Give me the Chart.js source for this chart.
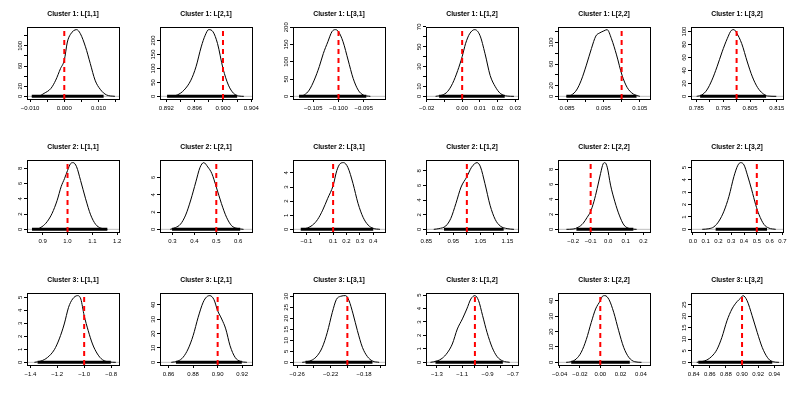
<!DOCTYPE html>
<html>
<head>
<meta charset="utf-8">
<script src="https://cdn.jsdelivr.net/npm/chart.js@4.4.0/dist/chart.umd.min.js"></script>
<style>
html, body { margin: 0; padding: 0; background: #fff; }
#wrap { position: relative; width: 797px; height: 399px; overflow: hidden; background: #fff; }
#wrap canvas { position: absolute; }
</style>
</head>
<body>
<div id="wrap"></div>
<script>
// panel titles, row by row (3 clusters x 6 loadings)
const titles = [
  'Cluster 1: L[1,1]', 'Cluster 1: L[2,1]', 'Cluster 1: L[3,1]', 'Cluster 1: L[1,2]', 'Cluster 1: L[2,2]', 'Cluster 1: L[3,2]',
  'Cluster 2: L[1,1]', 'Cluster 2: L[2,1]', 'Cluster 2: L[3,1]', 'Cluster 2: L[1,2]', 'Cluster 2: L[2,2]', 'Cluster 2: L[3,2]',
  'Cluster 3: L[1,1]', 'Cluster 3: L[2,1]', 'Cluster 3: L[3,1]', 'Cluster 3: L[1,2]', 'Cluster 3: L[2,2]', 'Cluster 3: L[3,2]'
];

// true value (red dashed line)
const trueVals = [0, 0.9, -0.1, 0, 0.1, 0.8, 1.0, 0.5, 0.1, 1.0, -0.1, 0.5, -1.0, 0.9, -0.2, -1.0, 0, 0.9];

// x range of each plot
const xLims = [
  [-0.0109, 0.016], [0.8911, 0.9041], [-0.109, -0.0908], [-0.0204, 0.0315], [0.0825, 0.1078], [0.783, 0.8173],
  [0.837, 1.207], [0.243, 0.663], [-0.2, 0.488], [0.849, 1.189], [-0.286, 0.238], [-0.015, 0.705],
  [-1.425, -0.741], [0.853, 0.928], [-0.265, -0.155], [-1.387, -0.659], [-0.0416, 0.0489], [0.8367, 0.9508]
];

// range of the sample points drawn on y = 0
const rugs = [
  [-0.0095, 0.0115], [0.8921, 0.902], [-0.1078, -0.0945], [-0.013, 0.024], [0.0848, 0.1041], [0.7864, 0.811],
  [0.857, 1.16], [0.298, 0.609], [-0.142, 0.4], [0.9155, 1.136], [-0.181, 0.143], [0.178, 0.58],
  [-1.346, -0.802], [0.866, 0.9197], [-0.25, -0.17], [-1.312, -0.779], [-0.0286, 0.029], [0.8458, 0.9375]
];

// density curves
const densX = [
  [-0.0095, -0.0073, -0.0059, -0.0039, -0.0025, -0.0011, 0, 0.0009, 0.0018, 0.0036, 0.0047, 0.0062, 0.0076, 0.009, 0.0105, 0.0124, 0.0148],
  [0.89258, 0.89354, 0.89451, 0.89547, 0.89619, 0.89692, 0.89749, 0.89798, 0.8986, 0.89923, 0.9, 0.90077, 0.9015, 0.90222, 0.90294],
  [-0.1078, -0.1068, -0.1058, -0.1048, -0.1038, -0.103, -0.1021, -0.1013, -0.1006, -0.1, -0.0991, -0.0981, -0.0971, -0.0961, -0.0951, -0.0937],
  [-0.015, -0.0112, -0.0083, -0.0054, -0.0025, 0, 0.0019, 0.0042, 0.0071, 0.01, 0.0129, 0.0158, 0.0187, 0.0215, 0.0254, 0.0292],
  [0.0848, 0.0862, 0.0876, 0.0889, 0.0903, 0.0917, 0.0929, 0.094, 0.0951, 0.096, 0.0972, 0.0986, 0.1001, 0.1015, 0.1032, 0.105],
  [0.7851, 0.787, 0.7889, 0.7908, 0.7927, 0.7946, 0.7965, 0.7981, 0.799, 0.8, 0.8019, 0.804, 0.8059, 0.8078, 0.8097, 0.8116, 0.8148],
  [0.8775, 0.8977, 0.9179, 0.938, 0.9583, 0.9744, 0.9879, 1.0, 1.0121, 1.0229, 1.0363, 1.0525, 1.0727, 1.0929, 1.113, 1.1332, 1.16],
  [0.29, 0.3134, 0.3367, 0.36, 0.3834, 0.4067, 0.4253, 0.4425, 0.4611, 0.4798, 0.5, 0.5233, 0.5467, 0.57, 0.5933, 0.6244],
  [-0.129, -0.0914, -0.0537, -0.0159, 0.0219, 0.0597, 0.1, 0.1277, 0.1529, 0.1781, 0.2108, 0.2486, 0.2864, 0.3242, 0.362, 0.3997, 0.45],
  [0.8777, 0.8966, 0.9218, 0.9407, 0.9596, 0.9786, 1.0, 1.0164, 1.029, 1.0378, 1.0504, 1.0668, 1.0858, 1.1047, 1.1236, 1.1488, 1.174],
  [-0.238, -0.2, -0.1714, -0.1429, -0.12, -0.101, -0.0819, -0.0629, -0.0438, -0.0286, -0.019, -0.0057, 0.0133, 0.0381, 0.0629, 0.0895, 0.1238, 0.1619],
  [0.073, 0.125, 0.164, 0.204, 0.243, 0.282, 0.321, 0.352, 0.373, 0.4, 0.426, 0.46, 0.491, 0.517, 0.556, 0.595, 0.648],
  [-1.37, -1.321, -1.272, -1.222, -1.185, -1.148, -1.116, -1.086, -1.049, -1.025, -1.0, -0.97, -0.938, -0.901, -0.864, -0.815, -0.765],
  [0.8622, 0.8677, 0.8718, 0.8759, 0.88, 0.8841, 0.8882, 0.891, 0.8937, 0.897, 0.9, 0.9033, 0.9066, 0.9101, 0.9142, 0.9184, 0.9238],
  [-0.254, -0.248, -0.242, -0.236, -0.23, -0.224, -0.218, -0.2132, -0.208, -0.202, -0.198, -0.1932, -0.188, -0.182, -0.176, -0.17, -0.162],
  [-1.352, -1.299, -1.259, -1.219, -1.179, -1.139, -1.099, -1.064, -1.032, -1.0, -0.971, -0.939, -0.904, -0.864, -0.824, -0.779, -0.725],
  [-0.0336, -0.0286, -0.0237, -0.0188, -0.0138, -0.0089, -0.0046, 0, 0.002, 0.0046, 0.0086, 0.0132, 0.0181, 0.023, 0.028, 0.0339, 0.0405],
  [0.8438, 0.85, 0.8563, 0.8625, 0.8688, 0.875, 0.8813, 0.8875, 0.8938, 0.8979, 0.9012, 0.9063, 0.9125, 0.9188, 0.925, 0.9313, 0.9375, 0.9458]
];
const densY = [
  [0, 1, 5.9, 15.7, 32, 55, 71.5, 107.5, 122.6, 132, 124, 98, 65, 32, 14, 2.6, 0],
  [0, 4.8, 22.6, 58, 106, 177, 219, 239, 231, 189, 100, 40, 10.7, 1.2, 0],
  [0, 3.8, 18, 47, 86, 124, 158, 187, 193, 187, 158, 105, 52, 18, 3.8, 0],
  [0, 1.3, 4.7, 13, 26, 40, 53, 63, 67.2, 61.5, 43, 21, 9.7, 3, 0.3, 0],
  [0, 2.5, 11.7, 30, 58, 89, 112, 118, 121.6, 124, 107, 77, 39.5, 16.7, 4.3, 0],
  [0, 2, 9.7, 25, 45.6, 68.7, 89, 102, 103, 98, 81.5, 53, 30, 13.8, 4.6, 0.5, 0],
  [0, 0.35, 1, 2.1, 3.8, 5.6, 6.65, 7.7, 8.6, 8.74, 8.2, 6.4, 4.0, 1.9, 0.65, 0.17, 0],
  [0, 0.2, 0.6, 1.65, 3.4, 5.5, 7.15, 7.73, 7.23, 6.46, 4.9, 3.0, 1.4, 0.42, 0.12, 0],
  [0, 0.1, 0.3, 0.7, 1.36, 2.2, 3.1, 4.17, 4.66, 4.73, 4.38, 3.25, 1.84, 0.85, 0.3, 0.07, 0],
  [0, 0.1, 0.45, 1.5, 3.55, 5.8, 7.2, 8.45, 9.0, 9.14, 8.55, 6.27, 3.3, 1.36, 0.45, 0.1, 0],
  [0, 0.04, 0.27, 0.8, 1.6, 2.35, 3.67, 5.44, 7.43, 8.76, 8.9, 8.3, 5.9, 3.67, 1.9, 0.58, 0.09, 0],
  [0, 0.05, 0.2, 0.67, 1.47, 2.67, 4.28, 5.19, 5.4, 5.21, 4.41, 3.2, 2.0, 1.2, 0.4, 0.1, 0],
  [0, 0.1, 0.38, 0.97, 1.8, 2.95, 4.23, 4.87, 5.13, 4.87, 3.6, 2.44, 1.41, 0.64, 0.2, 0.03, 0],
  [0, 0.9, 3.5, 9.3, 18.6, 31.4, 41.9, 45.6, 46.5, 43.7, 36, 30.2, 23.3, 11.6, 3.5, 0.7, 0],
  [0, 0.3, 1.06, 3, 6.8, 13.6, 22.7, 28.5, 30, 30.3, 28, 22, 14.4, 6.8, 2.6, 0.6, 0],
  [0, 0.1, 0.3, 0.7, 1.36, 2.48, 3.23, 3.97, 4.71, 4.96, 4.59, 3.47, 2.23, 1.12, 0.42, 0.1, 0],
  [0, 0.4, 2.2, 6.5, 14.8, 26, 34.8, 40.2, 43, 43.5, 40.9, 32.6, 20.6, 9.8, 3.3, 0.4, 0],
  [0, 0.3, 1, 2.6, 5.5, 10.8, 18, 23.1, 26.3, 27.7, 28.9, 26.7, 20.2, 13, 6.5, 2.2, 0.3, 0]
];

// axis ticks (empty label = tick mark only)
const xTickVals = [
  [-0.01, -0.005, 0, 0.005, 0.01, 0.015], [0.892, 0.894, 0.896, 0.898, 0.9, 0.902, 0.904], [-0.105, -0.1, -0.095],
  [-0.02, -0.01, 0, 0.01, 0.02, 0.03], [0.085, 0.09, 0.095, 0.1, 0.105], [0.785, 0.79, 0.795, 0.8, 0.805, 0.81, 0.815],
  [0.9, 1.0, 1.1, 1.2], [0.3, 0.4, 0.5, 0.6], [-0.1, 0, 0.1, 0.2, 0.3, 0.4],
  [0.85, 0.9, 0.95, 1.0, 1.05, 1.1, 1.15], [-0.2, -0.1, 0, 0.1, 0.2], [0, 0.1, 0.2, 0.3, 0.4, 0.5, 0.6, 0.7],
  [-1.4, -1.2, -1.0, -0.8], [0.86, 0.88, 0.9, 0.92], [-0.26, -0.24, -0.22, -0.2, -0.18, -0.16],
  [-1.3, -1.2, -1.1, -1.0, -0.9, -0.8, -0.7], [-0.04, -0.02, 0, 0.02, 0.04], [0.84, 0.86, 0.88, 0.9, 0.92, 0.94]
];
const xTickLabels = [
  ['-0.010', '', '0.000', '', '0.010', ''], ['0.892', '', '0.896', '', '0.900', '', '0.904'], ['-0.105', '-0.100', '-0.095'],
  ['-0.02', '', '0.00', '0.01', '0.02', '0.03'], ['0.085', '', '0.095', '', '0.105'], ['0.785', '', '0.795', '', '0.805', '', '0.815'],
  ['0.9', '1.0', '1.1', '1.2'], ['0.3', '0.4', '0.5', '0.6'], ['-0.1', '', '0.1', '0.2', '0.3', '0.4'],
  ['0.85', '', '0.95', '', '1.05', '', '1.15'], ['-0.2', '-0.1', '0.0', '0.1', '0.2'], ['0.0', '0.1', '0.2', '0.3', '0.4', '0.5', '0.6', '0.7'],
  ['-1.4', '-1.2', '-1.0', '-0.8'], ['0.86', '0.88', '0.90', '0.92'], ['-0.26', '', '-0.22', '', '-0.18', ''],
  ['-1.3', '', '-1.1', '', '-0.9', '', '-0.7'], ['-0.04', '-0.02', '0.00', '0.02', '0.04'], ['0.84', '0.86', '0.88', '0.90', '0.92', '0.94']
];
const yTickVals = [
  [0, 20, 40, 60, 80, 100, 120], [0, 50, 100, 150, 200], [0, 50, 100, 150, 200],
  [0, 10, 20, 30, 40, 50, 60, 70], [0, 20, 40, 60, 80, 100, 120], [0, 20, 40, 60, 80, 100],
  [0, 2, 4, 6, 8], [0, 2, 4, 6], [0, 1, 2, 3, 4],
  [0, 2, 4, 6, 8], [0, 2, 4, 6, 8], [0, 1, 2, 3, 4, 5],
  [0, 1, 2, 3, 4, 5], [0, 10, 20, 30, 40], [0, 5, 10, 15, 20, 25, 30],
  [0, 1, 2, 3, 4, 5], [0, 10, 20, 30, 40], [0, 5, 10, 15, 20, 25]
];
const yTickLabels = [
  ['0', '20', '', '60', '', '100', ''], ['0', '50', '100', '150', '200'], ['0', '50', '100', '150', '200'],
  ['0', '10', '', '30', '', '50', '', '70'], ['0', '20', '', '60', '', '100', ''], ['0', '20', '40', '60', '80', '100'],
  ['0', '2', '4', '6', '8'], ['0', '2', '4', '6'], ['0', '1', '2', '3', '4'],
  ['0', '2', '4', '6', '8'], ['0', '2', '4', '6', '8'], ['0', '1', '2', '3', '4', '5'],
  ['0', '1', '2', '3', '4', '5'], ['0', '10', '20', '30', '40'], ['0', '5', '10', '15', '20', '25', '30'],
  ['0', '1', '2', '3', '4', '5'], ['0', '10', '20', '30', '40'], ['0', '5', '10', '15', '20', '25']
];

const W = 797, PH = 133, NCOL = 6;
const BOX = { left: 27, right: 119, top: 27, bottom: 99 };
const FONT = "'Liberation Sans', Arial, Helvetica, sans-serif";
const minus = s => s.replace('-', '\u2212');

// box around plot region + rotated y labels like R
const rPlot = {
  id: 'rPlot',
  afterDraw(chart) {
    const { ctx, chartArea: a } = chart;
    ctx.save();
    ctx.strokeStyle = '#000';
    ctx.lineWidth = 1;
    ctx.strokeRect(Math.round(a.left) + 0.5, Math.round(a.top) + 0.5,
      Math.round(a.right - a.left), Math.round(a.bottom - a.top));
    const ys = chart.scales.y;
    ctx.fillStyle = '#000';
    ctx.font = '6px ' + FONT;
    ctx.textAlign = 'center';
    ctx.textBaseline = 'middle';
    ys.ticks.forEach(t => {
      if (!t.label) return;
      ctx.save();
      ctx.translate(a.left - 6.5, ys.getPixelForValue(t.value));
      ctx.rotate(-Math.PI / 2);
      ctx.fillText(t.label, 0, 0);
      ctx.restore();
    });
    ctx.restore();
  }
};

const wrap = document.getElementById('wrap');

titles.forEach((title, i) => {
  const col = i % NCOL, row = Math.floor(i / NCOL);
  const x0 = Math.round(col * W / NCOL), x1 = Math.round((col + 1) * W / NCOL);
  const cv = document.createElement('canvas');
  cv.width = x1 - x0;
  cv.height = PH;
  cv.style.left = x0 + 'px';
  cv.style.top = (row * PH) + 'px';
  cv.style.width = (x1 - x0) + 'px';
  cv.style.height = PH + 'px';
  wrap.appendChild(cv);

  const peak = Math.max(...densY[i]);
  const yMin = -0.04 * peak, yMax = 1.04 * peak;
  const [xMin, xMax] = xLims[i];
  const curve = densX[i].map((x, k) => ({ x: x, y: densY[i][k] }));

  const tickGrid = { display: true, drawOnChartArea: false, drawTicks: true, tickLength: 3, color: '#000', lineWidth: 1 };

  new Chart(cv, {
    type: 'line',
    data: {
      datasets: [
        { data: [{ x: trueVals[i], y: yMin }, { x: trueVals[i], y: yMax }], borderColor: '#ff0000', borderWidth: 2, borderDash: [5, 4], borderCapStyle: 'butt', pointRadius: 0 },
        { data: curve, borderColor: '#000', borderWidth: 1, pointRadius: 0, cubicInterpolationMode: 'monotone' },
        { data: [{ x: rugs[i][0], y: 0 }, { x: rugs[i][1], y: 0 }], borderColor: '#000', borderWidth: 3, borderCapStyle: 'butt', pointRadius: 0 },
        { data: [{ x: xMin, y: 0 }, { x: xMax, y: 0 }], borderColor: '#bebebe', borderWidth: 1, pointRadius: 0 }
      ]
    },
    options: {
      responsive: false,
      animation: false,
      events: [],
      layout: { padding: { left: 0, right: cv.width - BOX.right, top: 0, bottom: 0 } },
      plugins: {
        legend: { display: false },
        tooltip: { enabled: false },
        title: {
          display: true, text: title, fullSize: false, color: '#000',
          font: { family: FONT, size: 6.8, weight: 'bold', lineHeight: 1.2 },
          padding: { top: 9.9, bottom: 8.9 }
        }
      },
      scales: {
        x: {
          type: 'linear', min: xMin, max: xMax,
          afterBuildTicks: s => { s.ticks = xTickVals[i].map(v => ({ value: v })); },
          afterFit: s => { s.height = PH - BOX.bottom; },
          ticks: {
            autoSkip: false, maxRotation: 0, minRotation: 0, padding: 3, color: '#000',
            font: { family: FONT, size: 6 },
            callback: (v, k) => minus(xTickLabels[i][k] || '')
          },
          grid: tickGrid,
          border: { display: false }
        },
        y: {
          type: 'linear', min: yMin, max: yMax,
          afterBuildTicks: s => { s.ticks = yTickVals[i].map(v => ({ value: v })); },
          afterFit: s => { s.width = BOX.left; },
          ticks: { display: false, callback: (v, k) => yTickLabels[i][k] || '' },
          grid: tickGrid,
          border: { display: false }
        }
      }
    },
    plugins: [rPlot]
  });
});
</script>
</body>
</html>
